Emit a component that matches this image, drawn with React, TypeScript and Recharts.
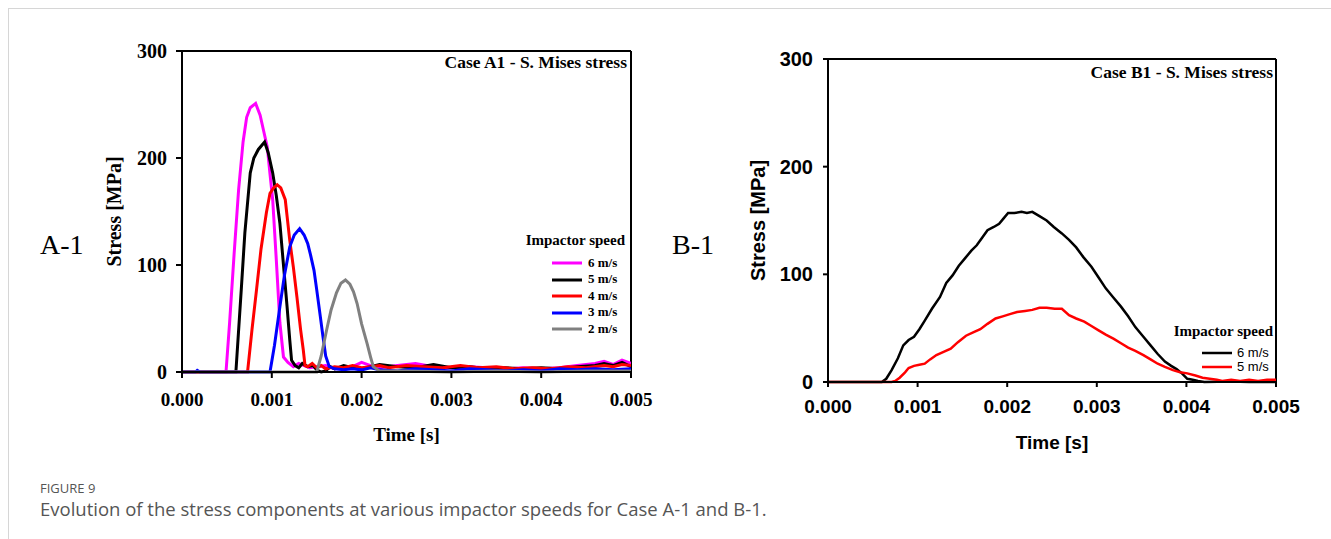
import { LineChart, Line, XAxis, YAxis, Legend, ReferenceLine } from 'recharts';

// time [s], stress [MPa]
const caseA1Six: [number, number][] = [
  [0, 0], [0.00049, 0], [0.00053, 46], [0.00058, 110], [0.00063, 170], [0.00068, 215], [0.00072, 238],
  [0.00076, 247], [0.00082, 251], [0.00087, 240], [0.00091, 225], [0.00095, 210], [0.00098, 185],
  [0.00101, 161], [0.00105, 105], [0.00109, 46], [0.00113, 14], [0.00118, 9], [0.00124, 5], [0.0013, 8],
  [0.00136, 6], [0.00142, 4], [0.0015, 5], [0.0016, 6], [0.0017, 3], [0.0018, 4], [0.0019, 5], [0.002, 9],
  [0.0021, 6], [0.0022, 4], [0.0024, 6], [0.0026, 8], [0.0028, 5], [0.003, 4], [0.0032, 5], [0.0034, 4],
  [0.0036, 3], [0.0038, 4], [0.004, 3], [0.0042, 4], [0.0044, 6], [0.0046, 8], [0.0047, 10], [0.0048, 7],
  [0.0049, 11], [0.005, 8],
];
const caseA1Five: [number, number][] = [
  [0, 0], [0.0006, 0], [0.00066, 77], [0.0007, 130], [0.00076, 186], [0.0008, 200], [0.00085, 208],
  [0.00092, 215], [0.00096, 205], [0.00101, 186], [0.00105, 165], [0.00109, 139], [0.00113, 100],
  [0.00117, 61], [0.0012, 30], [0.00122, 11], [0.00126, 6], [0.0013, 4], [0.00134, 8], [0.0014, 5],
  [0.00146, 6], [0.0015, 2], [0.00155, 0], [0.0016, 1], [0.00165, 5], [0.0017, 3], [0.0018, 6], [0.0019, 4],
  [0.002, 3], [0.0021, 5], [0.0022, 7], [0.0024, 5], [0.0026, 4], [0.0028, 7], [0.003, 4], [0.0032, 5],
  [0.0034, 3], [0.0036, 4], [0.0038, 3], [0.004, 4], [0.0042, 3], [0.0044, 5], [0.0046, 6], [0.0047, 8],
  [0.0048, 6], [0.0049, 9], [0.005, 5],
];
const caseA1Four: [number, number][] = [
  [0, 0], [0.00073, 0], [0.00078, 40], [0.00083, 77], [0.00088, 115], [0.00094, 149], [0.00098, 167],
  [0.00102, 172], [0.00106, 175], [0.0011, 172], [0.00115, 161], [0.0012, 123], [0.00124, 98], [0.00128, 70],
  [0.00132, 40], [0.00135, 21], [0.00137, 6], [0.0014, 5], [0.00145, 8], [0.0015, 4], [0.00155, 6], [0.0016, 3],
  [0.0017, 5], [0.0018, 4], [0.0019, 6], [0.002, 4], [0.0021, 5], [0.0022, 6], [0.0023, 4], [0.0025, 6],
  [0.0027, 5], [0.0029, 4], [0.0031, 6], [0.0033, 4], [0.0035, 5], [0.0037, 3], [0.0039, 4], [0.0041, 3],
  [0.0043, 5], [0.0045, 4], [0.0047, 6], [0.0048, 5], [0.0049, 7], [0.005, 6],
];
const caseA1Three: [number, number][] = [
  [0, 0], [0.00015, 0], [0.00017, 1.5], [0.0002, 0], [0.00098, 0], [0.00103, 25], [0.00109, 61], [0.00114, 90],
  [0.0012, 117], [0.00125, 128], [0.00131, 134], [0.00136, 128], [0.0014, 120], [0.00143, 110], [0.00147, 95],
  [0.0015, 77], [0.00154, 52], [0.00157, 33], [0.0016, 15], [0.00164, 5], [0.0017, 3], [0.0018, 2], [0.0019, 3],
  [0.002, 2], [0.0021, 4], [0.0022, 2], [0.0024, 1], [0.0026, 3], [0.0028, 2], [0.003, 1], [0.0032, 3],
  [0.0034, 2], [0.0036, 1], [0.0038, 2], [0.004, 1], [0.0042, 3], [0.0044, 2], [0.0046, 3], [0.0048, 2], [0.005, 3],
];
const caseA1Two: [number, number][] = [
  [0, 0], [0.0015, 0], [0.00155, 15], [0.00161, 39], [0.00166, 58], [0.00172, 74], [0.00177, 83], [0.00182, 86],
  [0.00187, 82], [0.00191, 75], [0.00195, 64], [0.002, 45], [0.00206, 27], [0.0021, 14], [0.00213, 5],
  [0.0022, 1], [0.0025, 1], [0.003, 0], [0.0035, 1], [0.004, 0], [0.0045, 1], [0.005, 1],
];

const caseB1Six: [number, number][] = [
  [0, 0], [0.0006, 0], [0.00065, 3], [0.00071, 11], [0.00078, 22], [0.00084, 34], [0.0009, 39], [0.00096, 42],
  [0.00102, 49], [0.00108, 57], [0.00116, 68], [0.00125, 79], [0.00132, 92], [0.00139, 99], [0.00146, 108],
  [0.00154, 116], [0.0016, 122], [0.00166, 127], [0.00172, 134], [0.00178, 141], [0.00185, 144], [0.00191, 147],
  [0.00196, 152], [0.00201, 157], [0.00208, 157], [0.00216, 158], [0.00222, 157], [0.00228, 158], [0.00236, 154],
  [0.00244, 150], [0.00252, 144], [0.00261, 138], [0.00269, 132], [0.00277, 125], [0.00285, 116], [0.00294, 107],
  [0.00302, 97], [0.0031, 87], [0.00318, 79], [0.00327, 70], [0.00335, 61], [0.00343, 51], [0.00352, 42],
  [0.0036, 34], [0.00368, 26], [0.00376, 19], [0.00383, 15], [0.00389, 12], [0.00395, 8], [0.00401, 3],
  [0.00407, 2], [0.00413, 1], [0.0042, 0], [0.0045, 0.5], [0.0047, 0], [0.005, 0],
];
const caseB1Five: [number, number][] = [
  [0, 0], [0.00071, 0], [0.00075, 1], [0.0008, 4], [0.00086, 9], [0.0009, 13], [0.00096, 15], [0.00102, 16],
  [0.00108, 17], [0.00114, 21], [0.00121, 25], [0.00129, 28], [0.00137, 31], [0.00145, 37], [0.00154, 43],
  [0.00162, 46], [0.0017, 49], [0.00178, 54], [0.00187, 59], [0.00195, 61], [0.00203, 63], [0.00211, 65],
  [0.0022, 66], [0.00228, 67], [0.00236, 69], [0.00244, 69], [0.00253, 68], [0.00261, 68], [0.00269, 62],
  [0.00277, 59], [0.00286, 56], [0.00294, 52], [0.00302, 48], [0.0031, 44], [0.00319, 40], [0.00327, 36],
  [0.00335, 32], [0.00343, 29], [0.00352, 25], [0.0036, 21], [0.00368, 17], [0.00376, 14], [0.00385, 11],
  [0.00393, 9], [0.00401, 8], [0.0041, 6], [0.00418, 4], [0.00426, 3], [0.00434, 2], [0.0044, 1], [0.0045, 2],
  [0.0046, 1], [0.0047, 2], [0.0048, 1], [0.0049, 2], [0.005, 2],
];

const timeTicks = [0, 0.001, 0.002, 0.003, 0.004, 0.005];
const stressTicks = [0, 100, 200, 300];

const toRows = (pts: [number, number][]) => pts.map(([t, v]) => ({ t, v }));

const SERIF = '"Liberation Serif", "Times New Roman", serif';
const SANS = '"Liberation Sans", Arial, sans-serif';

function legendContent(opts: {
  font: string;
  weight: string;
  size: number;
  stroke: number;
  rowH: number;
  gapTop: number;
  padRight: number;
  labelW: number;
  lineW: number;
  gap: number;
}) {
  return (props: any) => {
    // fastest impactor first, as in the figure
    const items = [...(props.payload || [])].sort((a: any, b: any) => parseFloat(b.value) - parseFloat(a.value));
    return (
      <div style={{ width: 130, color: '#000' }}>
        <div
          style={{
            height: 22,
            lineHeight: '22px',
            textAlign: 'right',
            fontFamily: SERIF,
            fontWeight: 'bold',
            fontSize: 15,
            whiteSpace: 'nowrap',
          }}
        >
          Impactor speed
        </div>
        <div style={{ marginTop: opts.gapTop }}>
          {items.map((p: any) => (
            <div
              key={p.value}
              style={{
                height: opts.rowH,
                display: 'flex',
                alignItems: 'center',
                justifyContent: 'flex-end',
                paddingRight: opts.padRight,
              }}
            >
              <svg width={opts.lineW} height={6} style={{ display: 'block' }}>
                <line x1={0} y1={3} x2={opts.lineW} y2={3} stroke={p.color} strokeWidth={opts.stroke} />
              </svg>
              <span
                style={{
                  width: opts.labelW,
                  marginLeft: opts.gap,
                  fontFamily: opts.font,
                  fontWeight: opts.weight,
                  fontSize: opts.size,
                  lineHeight: `${opts.rowH}px`,
                  whiteSpace: 'nowrap',
                }}
              >
                {p.value}
              </span>
            </div>
          ))}
        </div>
      </div>
    );
  };
}

function yTitle(font: string, dx: number) {
  return (props: any) => {
    const vb = props.viewBox;
    const x = vb.x + dx;
    const y = vb.y + vb.height / 2;
    return (
      <text
        x={x}
        y={y}
        transform={`rotate(-90 ${x} ${y})`}
        textAnchor="middle"
        dominantBaseline="central"
        fontFamily={font}
        fontWeight="bold"
        fontSize={20}
        fill="#000"
      >
        Stress [MPa]
      </text>
    );
  };
}

function xTitle(font: string, dy: number) {
  return (props: any) => {
    const vb = props.viewBox;
    return (
      <text
        x={vb.x + vb.width / 2}
        y={vb.y + dy}
        textAnchor="middle"
        fontFamily={font}
        fontWeight="bold"
        fontSize={19}
        fill="#000"
      >
        Time [s]
      </text>
    );
  };
}

const fmt = (v: number) => v.toFixed(3);

export default function App() {
  return (
    <div style={{ position: 'fixed', left: 0, top: 0, width: 1331, height: 539, background: '#fff', overflow: 'hidden' }}>
      <div style={{ position: 'absolute', left: 8, top: 8, right: 0, bottom: 0, borderTop: '1px solid #d6d6d6', borderLeft: '1px solid #d6d6d6' }} />

      <div style={{ position: 'absolute', left: 40, top: 228, fontFamily: SERIF, fontSize: 28, lineHeight: '34px', color: '#000' }}>A-1</div>
      <div style={{ position: 'absolute', left: 672, top: 228, fontFamily: SERIF, fontSize: 28, lineHeight: '34px', color: '#000' }}>B-1</div>

      {/* Case A1 */}
      <div style={{ position: 'absolute', left: 100, top: 30 }}>
        <LineChart width={560} height={430} margin={{ top: 21, right: 29, bottom: 16, left: 0 }}>
          <XAxis
            dataKey="t"
            type="number"
            domain={[0, 0.005]}
            ticks={timeTicks}
            tickFormatter={fmt}
            allowDataOverflow
            height={72}
            tickSize={6}
            tickMargin={15}
            axisLine={{ stroke: '#000', strokeWidth: 2 }}
            tickLine={{ stroke: '#000', strokeWidth: 2 }}
            tick={{ fontFamily: SERIF, fontWeight: 'bold', fontSize: 19, fill: '#000' }}
            label={xTitle(SERIF, 69)}
          />
          <YAxis
            type="number"
            domain={[0, 300]}
            ticks={stressTicks}
            width={82}
            tickSize={6}
            tickMargin={9}
            axisLine={{ stroke: '#000', strokeWidth: 2 }}
            tickLine={{ stroke: '#000', strokeWidth: 2 }}
            tick={{ fontFamily: SERIF, fontWeight: 'bold', fontSize: 20, fill: '#000' }}
            label={yTitle(SERIF, 14)}
          />
          <ReferenceLine y={300} stroke="#000" strokeWidth={2} />
          <ReferenceLine x={0.005} stroke="#000" strokeWidth={2} />
          <Legend
            layout="horizontal"
            verticalAlign="middle"
            wrapperStyle={{ left: 395, top: 199, width: 130 }}
            content={legendContent({ font: SERIF, weight: 'bold', size: 13, stroke: 3, rowH: 16.5, gapTop: 3.75, padRight: 8, labelW: 29, lineW: 30, gap: 6 })}
          />
          <Line data={toRows(caseA1Six)} dataKey="v" name="6 m/s" stroke="#ff00ff" strokeWidth={3} dot={false} isAnimationActive={false} />
          <Line data={toRows(caseA1Five)} dataKey="v" name="5 m/s" stroke="#000000" strokeWidth={3} dot={false} isAnimationActive={false} />
          <Line data={toRows(caseA1Four)} dataKey="v" name="4 m/s" stroke="#ff0000" strokeWidth={3} dot={false} isAnimationActive={false} />
          <Line data={toRows(caseA1Three)} dataKey="v" name="3 m/s" stroke="#0000ff" strokeWidth={3} dot={false} isAnimationActive={false} />
          <Line data={toRows(caseA1Two)} dataKey="v" name="2 m/s" stroke="#808080" strokeWidth={3} dot={false} isAnimationActive={false} />
        </LineChart>
        <div style={{ position: 'absolute', left: 280, width: 247, top: 22, lineHeight: '20px', textAlign: 'right', fontFamily: SERIF, fontWeight: 'bold', fontSize: 17.5, color: '#000', whiteSpace: 'nowrap' }}>
          Case A1 - S. Mises stress
        </div>
      </div>

      {/* Case B1 */}
      <div style={{ position: 'absolute', left: 740, top: 40 }}>
        <LineChart width={580} height={430} margin={{ top: 19, right: 44, bottom: 18, left: 0 }}>
          <XAxis
            dataKey="t"
            type="number"
            domain={[0, 0.005]}
            ticks={timeTicks}
            tickFormatter={fmt}
            allowDataOverflow
            height={70}
            tickSize={5}
            tickMargin={13}
            axisLine={{ stroke: '#000', strokeWidth: 2 }}
            tickLine={{ stroke: '#000', strokeWidth: 2 }}
            tick={{ fontFamily: SANS, fontWeight: 'bold', fontSize: 19, fill: '#000' }}
            label={xTitle(SANS, 67)}
          />
          <YAxis
            type="number"
            domain={[0, 300]}
            ticks={stressTicks}
            width={88}
            tickSize={5}
            tickMargin={10}
            axisLine={{ stroke: '#000', strokeWidth: 2 }}
            tickLine={{ stroke: '#000', strokeWidth: 2 }}
            tick={{ fontFamily: SANS, fontWeight: 'bold', fontSize: 20, fill: '#000' }}
            label={yTitle(SANS, 18)}
          />
          <ReferenceLine y={300} stroke="#000" strokeWidth={2} />
          <ReferenceLine x={0.005} stroke="#000" strokeWidth={2} />
          <Legend
            layout="horizontal"
            verticalAlign="middle"
            wrapperStyle={{ left: 403, top: 280, width: 130 }}
            content={legendContent({ font: SANS, weight: 'normal', size: 13, stroke: 2.5, rowH: 14, gapTop: 3.5, padRight: 5, labelW: 31, lineW: 30, gap: 5 })}
          />
          <Line data={toRows(caseB1Six)} dataKey="v" name="6 m/s" stroke="#000000" strokeWidth={2.5} dot={false} isAnimationActive={false} />
          <Line data={toRows(caseB1Five)} dataKey="v" name="5 m/s" stroke="#ff0000" strokeWidth={2.5} dot={false} isAnimationActive={false} />
        </LineChart>
        <div style={{ position: 'absolute', left: 280, width: 253, top: 22, lineHeight: '20px', textAlign: 'right', fontFamily: SERIF, fontWeight: 'bold', fontSize: 17.5, color: '#000', whiteSpace: 'nowrap' }}>
          Case B1 - S. Mises stress
        </div>
      </div>

      <div style={{ position: 'absolute', left: 40, top: 480, fontFamily: '"Open Sans", sans-serif', fontSize: 13, lineHeight: '16px', color: '#555' }}>FIGURE 9</div>
      <div style={{ position: 'absolute', left: 40, top: 498, fontFamily: '"Open Sans", sans-serif', fontSize: 18.5, lineHeight: '21px', color: '#555' }}>
        Evolution of the stress components at various impactor speeds for Case A-1 and B-1.
      </div>
    </div>
  );
}
